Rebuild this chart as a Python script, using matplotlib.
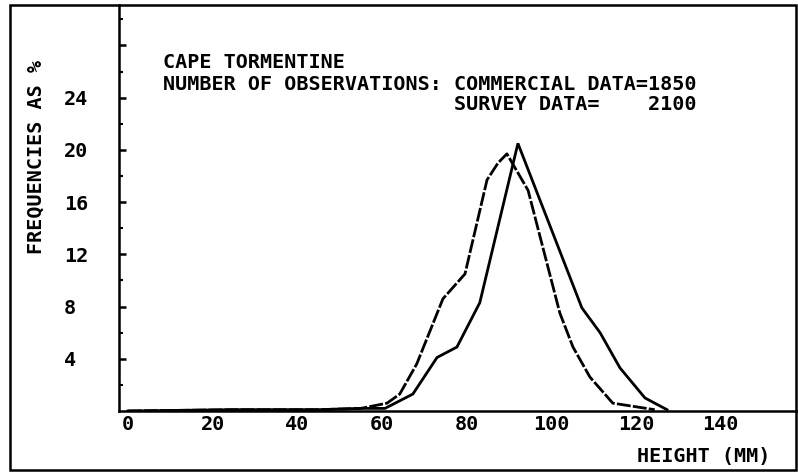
import matplotlib
matplotlib.use("Agg")
from matplotlib import pyplot as plt
from matplotlib.patches import Rectangle

# height-frequency curves, Cape Tormentine
commercial_x = [0, 25, 45, 55, 61.2, 64.2, 68.2, 74.4, 79.6, 84.8, 87.4, 89.5,
                94.5, 102.0, 105.1, 109.1, 114.5, 124.4]
commercial_y = [0, 0.1, 0.1, 0.2, 0.6, 1.3, 3.6, 8.6, 10.5, 17.7, 19.0, 19.7,
                16.9, 7.5, 4.9, 2.6, 0.6, 0.1]

survey_x = [0, 25, 45, 55, 60.7, 67.3, 73.0, 77.7, 83.1, 92.1, 107.2, 111.5,
            116.2, 122.1, 127.3]
survey_y = [0, 0.1, 0.1, 0.2, 0.2, 1.3, 4.1, 4.9, 8.3, 20.5, 7.9, 6.0,
            3.3, 1.0, 0.1]

x_ticks = [0, 20, 40, 60, 80, 100, 120, 140]
y_major = [4, 8, 12, 16, 20, 24, 28]
y_labels = ["4", "8", "12", "16", "20", "24", ""]
y_minor = [2, 6, 10, 14, 18, 22, 26, 30]

W, H = 798, 473
fnt = dict(family="DejaVu Sans Mono", weight="bold", size=14.5)

fig = plt.figure(figsize=(W / 100, H / 100), dpi=100)
ax = fig.add_axes([119 / W, (H - 411) / H, (797 - 119) / W, (411 - 5) / H])

ax.plot(survey_x, survey_y, color="black", lw=2.0, solid_joinstyle="miter")
ax.plot(commercial_x, commercial_y, color="black", lw=2.0, dashes=(5, 0.8))

ax.set_xlim(-2.1, 158)
ax.set_ylim(0, 31.1)

for s in ("top", "right"):
    ax.spines[s].set_visible(False)
for s in ("left", "bottom"):
    ax.spines[s].set_linewidth(1.8)

ax.set_xticks(x_ticks)
ax.set_xticklabels([str(v) for v in x_ticks], **fnt)
ax.tick_params(axis="x", length=0, pad=3)

ax.set_yticks(y_major)
ax.set_yticklabels(y_labels, **fnt)
ax.set_yticks(y_minor, minor=True)
ax.tick_params(axis="y", which="major", direction="in", length=5, width=1.8, pad=39.6)
ax.tick_params(axis="y", which="minor", direction="in", length=3, width=1.5)
for lab in ax.get_yticklabels():
    lab.set_horizontalalignment("left")

ax.set_ylabel("FREQUENCIES AS %", va="center", **fnt)
ax.yaxis.set_label_coords(-0.122, 0.626)
ax.set_xlabel("HEIGHT (MM)", ha="left", va="center", **fnt)
ax.xaxis.set_label_coords((637 - 119) / 678, -0.113)

ax.text(0.0649, 0.8596, "CAPE TORMENTINE", transform=ax.transAxes, va="center", **fnt)
ax.text(0.0649, 0.803, "NUMBER OF OBSERVATIONS: COMMERCIAL DATA=1850",
        transform=ax.transAxes, va="center", **fnt)
ax.text(0.0649, 0.756, "                        SURVEY DATA=    2100",
        transform=ax.transAxes, va="center", **fnt)

# outer border of the plot page
fig.patches.append(Rectangle((10 / W, 3 / H), (796 - 10) / W, (468 - 3) / H,
                             transform=fig.transFigure, fill=False,
                             lw=1.8, edgecolor="black"))

fig.savefig("out.png", dpi=100)
